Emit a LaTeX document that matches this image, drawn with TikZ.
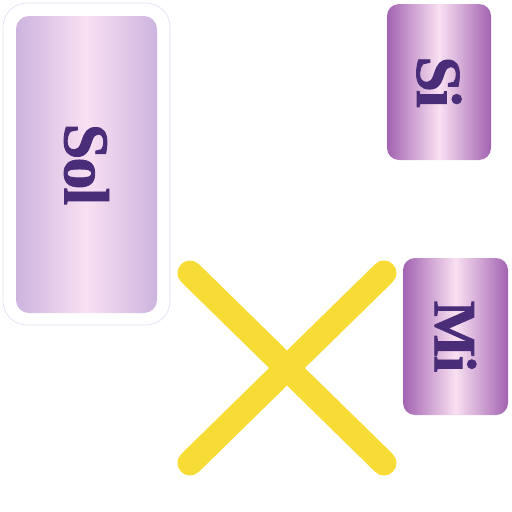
\documentclass[tikz,border=0pt]{standalone}
\usepackage{fontspec}
\setmainfont{Liberation Serif}
\newfontfamily\cardfont[FakeBold=1.3,LetterSpace=-3]{Liberation Serif}
\usetikzlibrary{positioning}

\definecolor{lilac}{HTML}{CDB4DF}
\definecolor{blush}{HTML}{F9E0F2}
\definecolor{mauve}{HTML}{A263B1}
\definecolor{plum}{HTML}{4A2D78}
\definecolor{sun}{HTML}{F7DC36}
\definecolor{rim}{HTML}{E4DCF2}

\begin{document}
\begin{tikzpicture}[
  x=1pt, y=-1pt,
  every node/.style = {inner sep=0pt, outer sep=0pt},
  frame/.style    = {draw=rim, line width=0.6pt, fill=white, rounded corners=24pt},
  softcard/.style = {rounded corners=13pt, left color=lilac, right color=lilac,
                     middle color=blush},
  deepcard/.style = {rounded corners=12pt, left color=mauve, right color=mauve,
                     middle color=blush},
  cardtext/.style = {rotate=-90, text=plum, font=\cardfont\bfseries\fontsize{60}{62}\selectfont},
  crossline/.style= {draw=sun, line width=25pt, line cap=round},
]
\useasboundingbox (0,0) rectangle (512,512);

% Left card with white frame
\node[frame, minimum width=167pt, minimum height=322pt] (solframe) at (86.5,164) {};
\node[softcard, minimum width=141pt, minimum height=297pt] (solcard) at (86.5,164.5) {};
\node[cardtext, font=\cardfont\bfseries\fontsize{64}{66}\selectfont] (sol) at (solcard.center) {Sol};

% Right cards
\node[deepcard, minimum width=104pt, minimum height=156pt] (sicard) at (439,82) {};
\node[cardtext, font=\cardfont\bfseries\fontsize{64}{66}\selectfont] (si) at (sicard.center) {Si};

\node[deepcard, minimum width=105pt, minimum height=157pt] (micard) at (455.5,336.5) {};
\node[cardtext] (mi) at (micard.center) {Mi};

% Yellow cross
\coordinate (xtl) at (190,273);
\coordinate (xtr) at (384,273);
\coordinate (xbl) at (190,463);
\coordinate (xbr) at (384,463);
\draw[crossline] (xtl) -- (xbr);
\draw[crossline] (xtr) -- (xbl);

\end{tikzpicture}
\end{document}
